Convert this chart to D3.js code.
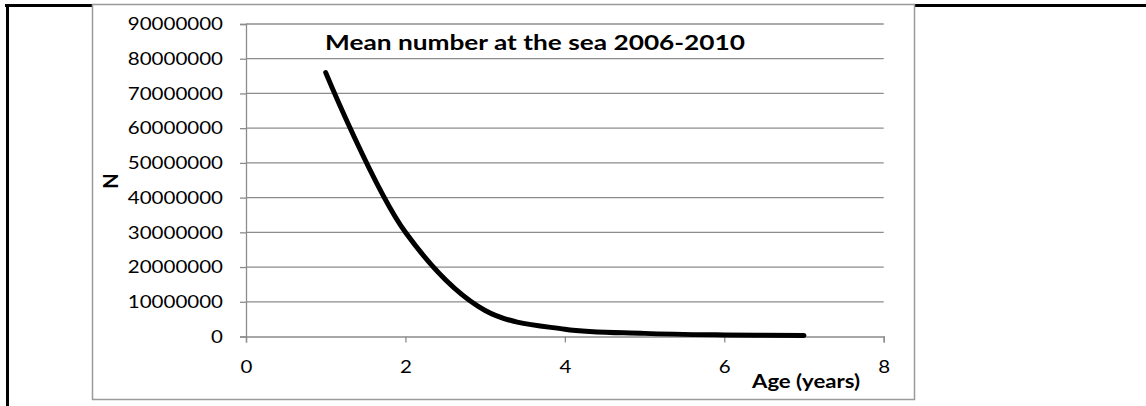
<!DOCTYPE html>
<html>
<head>
<meta charset="utf-8">
<script src="https://cdn.jsdelivr.net/npm/d3@7"></script>
<style>
  html, body { margin: 0; padding: 0; background: #fff; }
  svg { display: block; }
  text { font-family: Lato, "Open Sans", sans-serif; fill: #000; }
</style>
</head>
<body>
<svg id="chart" width="1146" height="406"></svg>
<script>
// Mean number at sea by age, 2006-2010
const ages = [1, 2, 3, 4, 5, 6, 7];
const meanNumber = [76000000, 30000000, 7500000, 2100000, 900000, 450000, 300000];
const xTicks = [0, 2, 4, 6, 8];
const yTicks = [0, 10000000, 20000000, 30000000, 40000000, 50000000, 60000000, 70000000, 80000000, 90000000];
const chartTitle = "Mean number at the sea 2006-2010";
const xTitle = "Age (years)";
const yTitle = "N";

const svg = d3.select("#chart");
const gridColor = "#8c8c8c";
const digitWidth = 11.9; // wide figure set used for tick labels

// page frame (table borders around the chart)
svg.append("line").attr("x1", 5).attr("x2", 1146).attr("y1", 5.5).attr("y2", 5.5)
  .attr("stroke", "#000").attr("stroke-width", 3);
svg.append("line").attr("x1", 7.5).attr("x2", 7.5).attr("y1", 4).attr("y2", 406)
  .attr("stroke", "#000").attr("stroke-width", 3);

// chart area box
svg.append("rect")
  .attr("x", 92.5).attr("y", 4.5).attr("width", 822).attr("height", 395)
  .attr("fill", "#fff").attr("stroke", "#9a9a9a").attr("stroke-width", 1.5);

const x = d3.scaleLinear().domain([0, 8]).range([246, 883.7]);
const y = d3.scaleLinear().domain([0, 90000000]).range([336.5, 24]);

// horizontal gridlines
svg.append("g").selectAll("line").data(yTicks.filter(d => d > 0)).join("line")
  .attr("x1", x(0)).attr("x2", x(8))
  .attr("y1", d => y(d)).attr("y2", d => y(d))
  .attr("stroke", gridColor).attr("stroke-width", 1.3);

// y axis
const yAxis = svg.append("g").attr("transform", `translate(${x(0)},0)`)
  .call(d3.axisLeft(y).tickValues(yTicks).tickSize(6).tickPadding(17).tickFormat(d3.format("d")));
// x axis
const xAxis = svg.append("g").attr("transform", `translate(0,${y(0)})`)
  .call(d3.axisBottom(x).tickValues(xTicks).tickSize(6).tickPadding(18).tickFormat(d3.format("d")));

[yAxis, xAxis].forEach(g => {
  g.select(".domain").attr("stroke", gridColor).attr("stroke-width", 1.3);
  g.selectAll(".tick line").attr("stroke", gridColor).attr("stroke-width", 1.3);
  g.selectAll(".tick text").attr("font-family", "Lato, 'Open Sans', sans-serif")
    .attr("font-size", 18).attr("fill", "#000")
    .attr("textLength", function () { return this.textContent.length * digitWidth; })
    .attr("lengthAdjust", "spacingAndGlyphs");
});

// smoothed series line
const line = d3.line()
  .x((d, i) => x(ages[i]))
  .y(d => y(d))
  .curve(d3.curveCatmullRom.alpha(0.5));

svg.append("path").datum(meanNumber)
  .attr("d", line)
  .attr("fill", "none").attr("stroke", "#000")
  .attr("stroke-width", 5).attr("stroke-linecap", "round").attr("stroke-linejoin", "round");

// titles
svg.append("text").attr("x", 535).attr("y", 50).attr("text-anchor", "middle")
  .attr("font-size", 21).attr("font-weight", "bold")
  .attr("textLength", 420).attr("lengthAdjust", "spacingAndGlyphs").text(chartTitle);
svg.append("text").attr("x", 752).attr("y", 388)
  .attr("font-size", 18).attr("font-weight", "bold")
  .attr("textLength", 108).attr("lengthAdjust", "spacingAndGlyphs").text(xTitle);
svg.append("text").attr("transform", "translate(118,181) rotate(-90)").attr("text-anchor", "middle")
  .attr("font-size", 20).attr("font-weight", "bold").text(yTitle);
</script>
</body>
</html>
